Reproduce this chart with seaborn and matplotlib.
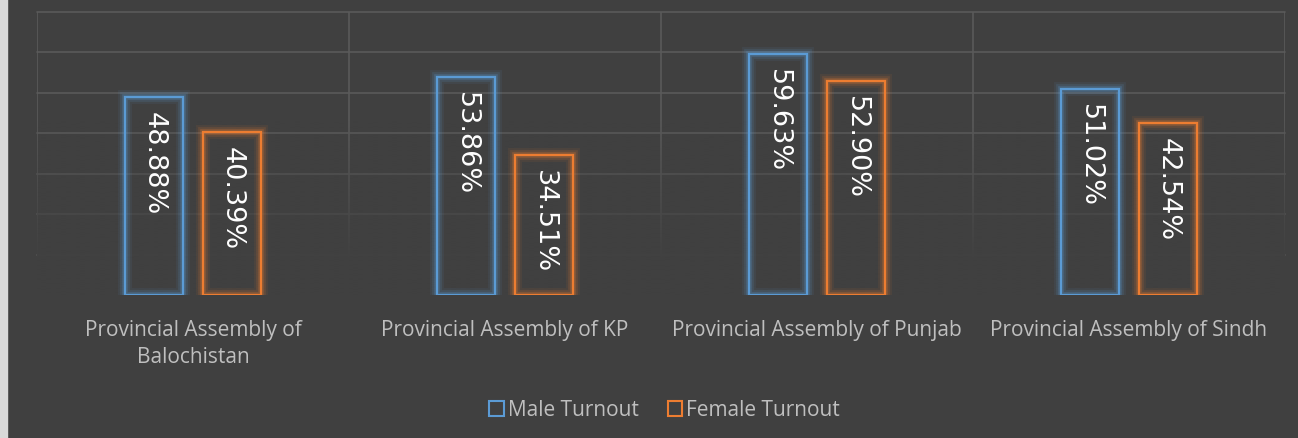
import numpy as np
import pandas as pd
import matplotlib
matplotlib.use('Agg')
import matplotlib.pyplot as plt
import matplotlib.patheffects as pe
from matplotlib.patches import Patch, Rectangle
import seaborn as sns

# 데이터
categories = ['Balochistan', 'KP', 'Punjab', 'Sindh']
tick_labels = ['Provincial Assembly of\nBalochistan', 'Provincial Assembly of KP',
               'Provincial Assembly of Punjab', 'Provincial Assembly of Sindh']
series = ['Male Turnout', 'Female Turnout']
male_turnout = [48.88, 53.86, 59.63, 51.02]
female_turnout = [40.39, 34.51, 52.90, 42.54]

BG = '#404040'
GRID = '#5a5a5a'
LABEL = '#bfbfbf'
colors = {'Male Turnout': '#5b9bd5', 'Female Turnout': '#ed7d31'}

df = pd.DataFrame({
    'category': categories * 2,
    'series': [series[0]] * 4 + [series[1]] * 4,
    'value': male_turnout + female_turnout,
})

sns.set_style('white')
plt.rcParams['font.family'] = ['Open Sans', 'DejaVu Sans']

fig = plt.figure(figsize=(12.98, 4.39), dpi=100, facecolor=BG)
ax = fig.add_axes([37 / 1298, 1 - 296 / 439, (1285 - 37) / 1298, 283 / 439])
ax.set_facecolor(BG)

sns.barplot(data=df, x='category', y='value', hue='series', order=categories,
            hue_order=series, palette=colors, fill=False, linewidth=1.6,
            width=0.5, gap=0.256, legend=False, ax=ax)

# 막대 글로우 효과
for patch in ax.patches:
    c = patch.get_edgecolor()
    patch.set_path_effects([
        pe.Stroke(linewidth=10, foreground=c, alpha=0.08),
        pe.Stroke(linewidth=7, foreground=c, alpha=0.14),
        pe.Stroke(linewidth=4, foreground=c, alpha=0.25),
        pe.Normal(),
    ])
    patch.set_zorder(3)

# 값 라벨 (세로, 위에서 아래로)
for container in ax.containers:
    for patch in container:
        h = patch.get_height()
        ax.annotate(f'{h:.2f}%', (patch.get_x() + patch.get_width() / 2, h),
                    xytext=(0, -10), textcoords='offset points',
                    rotation=-90, ha='center', va='top',
                    color='white', fontsize=19.5, family='DejaVu Sans', zorder=4)

ax.set_ylim(0, 70)
ax.set_xlim(-0.5, 3.5)
ax.set_yticks(np.arange(10, 71, 10))
ax.set_xticks(range(len(categories)))
ax.set_xticks(np.arange(-0.5, 4, 1), minor=True)
ax.set_xticklabels(tick_labels, color=LABEL, fontsize=15, linespacing=1.4)
ax.tick_params(axis='x', which='both', length=0, pad=17)
ax.tick_params(axis='y', length=0, labelleft=False)
ax.set_xlabel('')
ax.set_ylabel('')
for s in ax.spines.values():
    s.set_visible(False)

ax.set_axisbelow(True)
ax.grid(True, axis='y', which='major', color=GRID, linewidth=1.2)
ax.grid(True, axis='x', which='minor', color=GRID, linewidth=1.2)
ax.grid(False, axis='x', which='major')
for line in ax.get_xgridlines() + ax.get_ygridlines():
    line.set_clip_on(False)

# 그리드 아래쪽 페이드
fade = np.ones((200, 1, 4))
fade[..., :3] = matplotlib.colors.to_rgb(BG)
frac = np.linspace(1, 0, 200)
fade[:, 0, 3] = np.clip((0.62 - frac) / 0.5, 0, 1)
ax.imshow(fade, extent=[0, 1, -0.01, 1], transform=ax.transAxes, aspect='auto',
          zorder=0.8, interpolation='bilinear')

# 범례
handles = [Patch(facecolor='none', edgecolor=colors[s], linewidth=1.5, label=s)
           for s in series]
leg = fig.legend(handles=handles, loc='center', bbox_to_anchor=(0.512, 1 - 411 / 439),
                 ncol=2, frameon=False, fontsize=15, handlelength=0.7,
                 handleheight=0.7, handletextpad=0.2, columnspacing=1.4)
for t in leg.get_texts():
    t.set_color(LABEL)

# 왼쪽 밝은 테두리
fig.patches.append(Rectangle((0, 0), 7 / 1298, 1, transform=fig.transFigure,
                             color='#d9d9d9', zorder=0))

fig.savefig('out.png', dpi=100, facecolor=BG)
